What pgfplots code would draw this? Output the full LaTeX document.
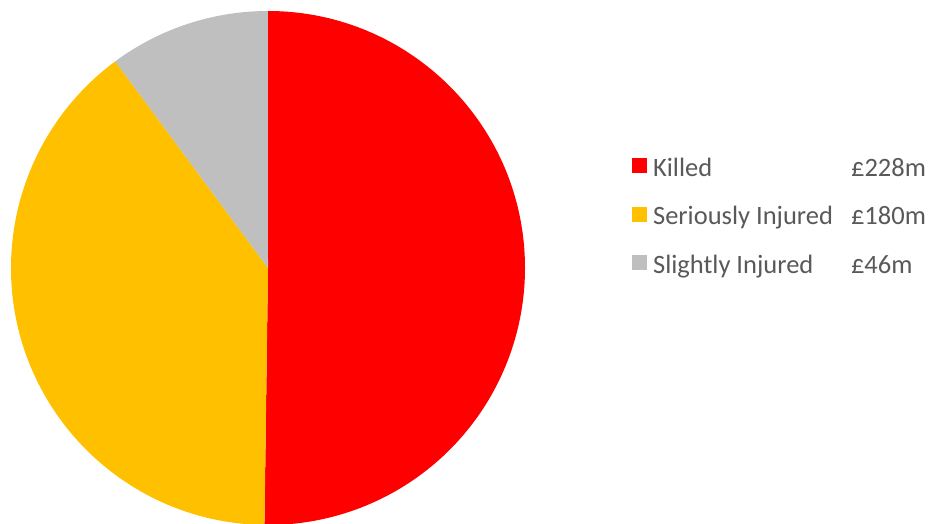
\documentclass[border=0pt]{standalone}
\usepackage{fontspec}
\setmainfont{Carlito}
\usepackage{pgfplots}
\usepackage{pgfplotstable}
\pgfplotsset{compat=1.18}
\definecolor{Killed}{HTML}{FF0000}
\definecolor{Serious}{HTML}{FFC000}
\definecolor{Slight}{HTML}{BFBFBF}
\definecolor{Txt}{HTML}{595959}

% cost by severity, in pounds million
\pgfplotstableread{
label value
Killed 228
Serious 180
Slight 46
}\costs

\pgfplotstablegetelem{0}{value}\of\costs \let\vA\pgfplotsretval
\pgfplotstablegetelem{1}{value}\of\costs \let\vB\pgfplotsretval
\pgfplotstablegetelem{2}{value}\of\costs \let\vC\pgfplotsretval
\pgfmathsetmacro{\tot}{\vA+\vB+\vC}
\pgfmathsetmacro{\aA}{90}
\pgfmathsetmacro{\aB}{\aA-360*(\vA/\tot)}
\pgfmathsetmacro{\aC}{\aB-360*(\vB/\tot)}
\pgfmathsetmacro{\aD}{\aC-360*(\vC/\tot)}

\begin{document}
\begin{tikzpicture}
\useasboundingbox (-268pt,-255pt) rectangle (663pt,268pt);
\begin{axis}[
  at={(0,0)},anchor=center,
  x=257pt,y=257pt,
  xmin=-1.05,xmax=1.05,ymin=-1.05,ymax=1.05,
  hide axis,clip=false,
  legend image code/.code={\fill[#1,draw=none] (0pt,-7.5pt) rectangle (15pt,7.5pt);},
  legend style={at={(axis cs:1.416,0.452)},anchor=north west,draw=none,fill=none,
    inner sep=0pt,column sep=4pt,row sep=20.7pt,
    font=\fontsize{26.5}{31.8}\selectfont\color{Txt}},
  legend cell align=left
]
\fill[Killed] (axis cs:0,0) -- (axis cs:{cos(\aA)},{sin(\aA)}) arc[start angle=\aA,end angle=\aB,radius=257pt] -- cycle;
\fill[Serious] (axis cs:0,0) -- (axis cs:{cos(\aB)},{sin(\aB)}) arc[start angle=\aB,end angle=\aC,radius=257pt] -- cycle;
\fill[Slight] (axis cs:0,0) -- (axis cs:{cos(\aC)},{sin(\aC)}) arc[start angle=\aC,end angle=\aD,radius=257pt] -- cycle;
\addlegendimage{fill=Killed}
\addlegendentry{\strut\makebox[198pt][l]{Killed}£228m}
\addlegendimage{fill=Serious}
\addlegendentry{\strut\makebox[198pt][l]{Seriously Injured}£180m}
\addlegendimage{fill=Slight}
\addlegendentry{\strut\makebox[198pt][l]{Slightly Injured}£46m}
\end{axis}
\end{tikzpicture}
\end{document}
